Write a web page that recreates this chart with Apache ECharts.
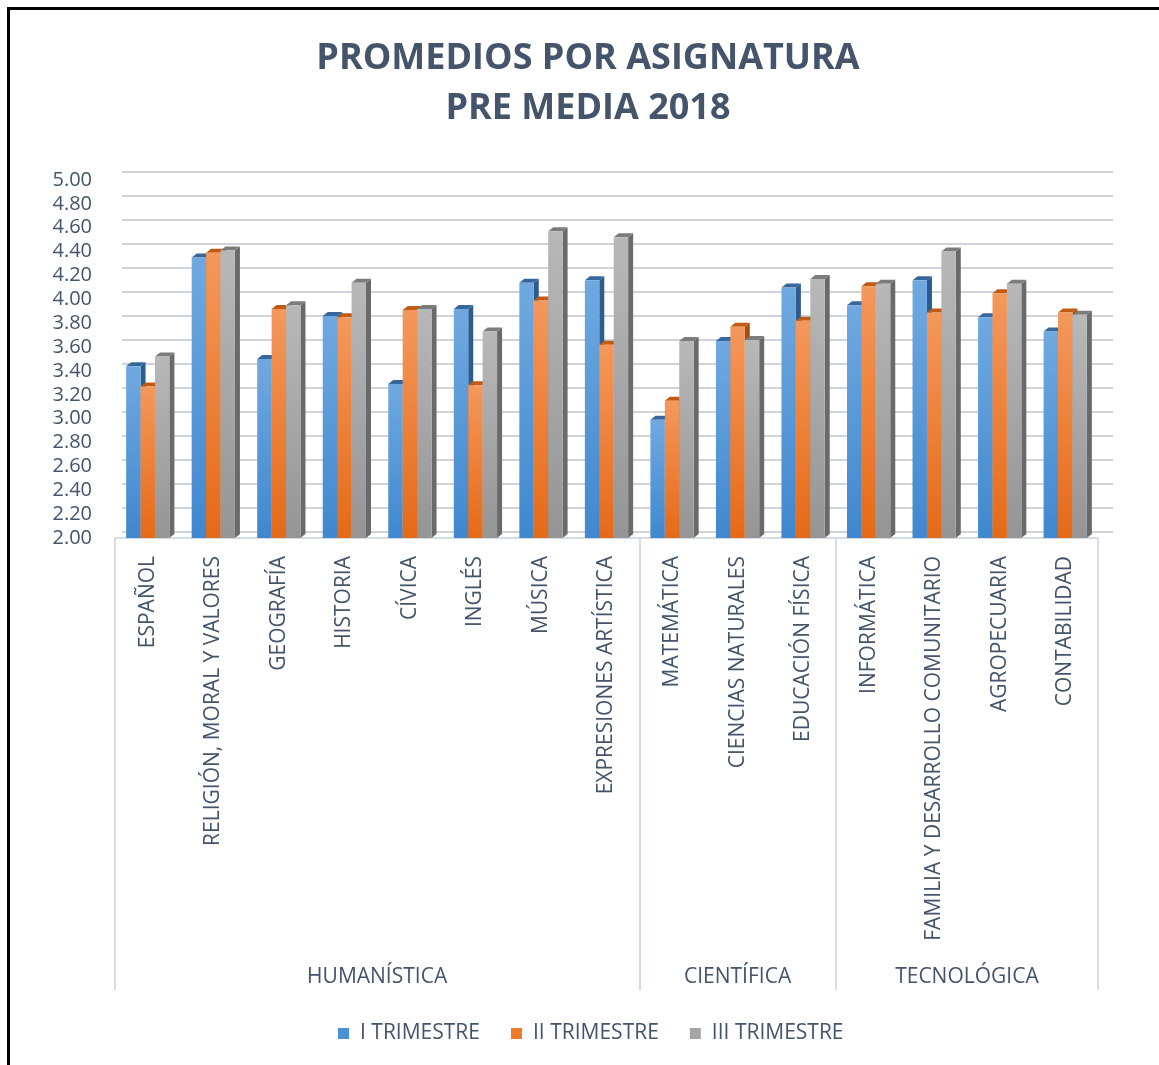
<!DOCTYPE html>
<html>
<head>
<meta charset="utf-8">
<script src="https://cdn.jsdelivr.net/npm/echarts@6/dist/echarts.min.js"></script>
<style>
  html, body { margin: 0; padding: 0; background: #fff; }
  #chart1 { width: 1159px; height: 1065px; }
  #frame {
    position: absolute; left: 7px; top: 7px; right: 0; bottom: 0;
    border-left: 3px solid #000; border-top: 3px solid #000;
    pointer-events: none;
  }
</style>
</head>
<body>
<div id="chart1"></div>
<div id="frame"></div>
<script>
var categories = ['ESPAÑOL', 'RELIGIÓN, MORAL Y VALORES', 'GEOGRAFÍA', 'HISTORIA', 'CÍVICA', 'INGLÉS', 'MÚSICA',
  'EXPRESIONES ARTÍSTICA', 'MATEMÁTICA', 'CIENCIAS NATURALES', 'EDUCACIÓN FÍSICA', 'INFORMÁTICA',
  'FAMILIA Y DESARROLLO COMUNITARIO', 'AGROPECUARIA', 'CONTABILIDAD'];
var groups = ['HUMANÍSTICA', 'CIENTÍFICA', 'TECNOLÓGICA'];
var groupSizes = [8, 3, 4];
var seriesNames = ['I TRIMESTRE', 'II TRIMESTRE', 'III TRIMESTRE'];

var trim1 = [3.44, 4.35, 3.50, 3.86, 3.29, 3.92, 4.14, 4.16, 2.99, 3.65, 4.10, 3.95, 4.16, 3.85, 3.73];
var trim2 = [3.27, 4.39, 3.92, 3.85, 3.91, 3.28, 3.99, 3.62, 3.15, 3.77, 3.82, 4.11, 3.89, 4.05, 3.89];
var trim3 = [3.52, 4.41, 3.95, 4.14, 3.92, 3.73, 4.57, 4.52, 3.65, 3.66, 4.17, 4.13, 4.40, 4.13, 3.87];

var yMin = 2, yMax = 5, yStep = 0.2;

// group boundaries and centres on a 0..15 scale
var bounds = [0], centers = [];
groupSizes.forEach(function (n, k) {
  var start = bounds[k];
  bounds.push(start + n);
  centers.push(start + n / 2);
});

var textColor = '#44546A';
var font = 'Open Sans';

var palettes = [
  { light: '#70A9E0', dark: '#3F88CF', top: '#35679D', side: '#2D5C8F', legend: '#4A90D6' },
  { light: '#F4985C', dark: '#E56A17', top: '#C25A14', side: '#A94C0F', legend: '#EE7A2A' },
  { light: '#B8B8B8', dark: '#959595', top: '#7C7C7C', side: '#6A6A6A', legend: '#A5A5A5' }
];

function makeRender(s, pal) {
  return function (params, api) {
    var i = api.value(0), v = api.value(1);
    var top = api.coord([i, v]);
    var base = api.coord([i, yMin]);
    var bw = api.size([1, 0])[0] * 0.22;
    var x0 = top[0] + (s - 1.5) * bw, x1 = x0 + bw;
    var yT = top[1], yB = base[1];
    var dx = 5, dy = 4;
    return {
      type: 'group',
      children: [
        { type: 'polygon', shape: { points: [[x1, yT], [x1 + dx, yT - dy], [x1 + dx, yB - dy], [x1, yB]] },
          style: { fill: pal.side } },
        { type: 'polygon', shape: { points: [[x0, yT], [x0 + dx, yT - dy], [x1 + dx, yT - dy], [x1, yT]] },
          style: { fill: pal.top } },
        { type: 'rect', shape: { x: x0, y: yT, width: bw, height: yB - yT },
          style: { fill: new echarts.graphic.LinearGradient(0, 0, 0, 1, [
            { offset: 0, color: pal.light }, { offset: 1, color: pal.dark }]) } }
      ]
    };
  };
}

var chartDom = document.getElementById('chart1');
var myChart = echarts.init(chartDom);
var option;

option = {
  animation: false,
  title: {
    text: 'PROMEDIOS POR ASIGNATURA\nPRE MEDIA 2018',
    left: 583,
    textAlign: 'center',
    top: 29,
    textStyle: { fontFamily: font, fontSize: 36, fontWeight: 'bold', color: textColor, lineHeight: 50 }
  },
  legend: {
    top: 1018,
    left: 333,
    icon: 'rect',
    itemWidth: 11,
    itemHeight: 11,
    itemGap: 31,
    data: seriesNames,
    textStyle: { fontFamily: font, fontSize: 21, color: textColor, padding: [0, 0, 0, 6] }
  },
  grid: [
    { left: 115, right: 61, top: 180, height: 358 },
    { left: 122, right: 46, top: 172, height: 360 }
  ],
  xAxis: [
    {
      type: 'category', gridIndex: 0, data: categories,
      axisLine: { show: true, lineStyle: { color: '#D6DCE5', width: 2 } },
      axisTick: { show: false },
      axisLabel: { rotate: 90, margin: 18, interval: 0, fontFamily: font, fontSize: 21, color: textColor }
    },
    {
      type: 'value', gridIndex: 0, position: 'bottom', min: 0, max: bounds[bounds.length - 1],
      axisLine: { show: false },
      splitLine: { show: false },
      axisTick: { show: true, customValues: bounds, length: 452, lineStyle: { color: '#D6DCE5', width: 2 } },
      axisLabel: {
        customValues: centers, margin: 429, fontFamily: font, fontSize: 21, color: textColor,
        formatter: function (val) {
          var k = centers.indexOf(val);
          return k >= 0 ? groups[k] : '';
        }
      }
    },
    { type: 'category', gridIndex: 1, data: categories, show: false }
  ],
  yAxis: [
    {
      type: 'value', gridIndex: 0, min: yMin, max: yMax, interval: yStep,
      axisLine: { show: false }, axisTick: { show: false }, splitLine: { show: false },
      axisLabel: { margin: 23, fontFamily: font, fontSize: 20, color: textColor,
        formatter: function (v) { return v.toFixed(2); } }
    },
    {
      type: 'value', gridIndex: 1, min: yMin, max: yMax, interval: yStep,
      axisLine: { show: false }, axisTick: { show: false }, axisLabel: { show: false },
      splitLine: { lineStyle: { color: '#D0D4DA', width: 2 } }
    }
  ],
  series: [trim1, trim2, trim3].map(function (vals, s) {
    return {
      name: seriesNames[s],
      type: 'custom',
      xAxisIndex: 0,
      yAxisIndex: 0,
      clip: false,
      itemStyle: { color: palettes[s].legend },
      encode: { x: 0, y: 1 },
      renderItem: makeRender(s, palettes[s]),
      data: vals.map(function (v, i) { return [i, v]; })
    };
  })
};

option && myChart.setOption(option);
window.onresize = function() {
  myChart.resize();
};
</script>
</body>
</html>
